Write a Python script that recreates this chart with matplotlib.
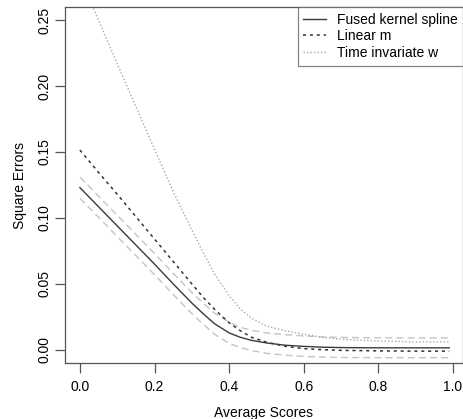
import numpy as np
import matplotlib.pyplot as plt

plt.rcParams['font.family'] = ['Liberation Sans', 'DejaVu Sans']

# average scores grid
x = [0.00, 0.05, 0.10, 0.15, 0.20, 0.25, 0.30, 0.33, 0.36, 0.40, 0.43, 0.46, 0.50,
     0.55, 0.60, 0.65, 0.70, 0.80, 0.90, 0.99]

fused = [0.123, 0.1085, 0.094, 0.0795, 0.065, 0.050, 0.0355, 0.0275, 0.020, 0.0128, 0.0095,
         0.0072, 0.0052, 0.0035, 0.0026, 0.0020, 0.0017, 0.0015, 0.0015, 0.0015]
fused_up = [0.131, 0.1165, 0.102, 0.0875, 0.073, 0.058, 0.0435, 0.0355, 0.028, 0.021, 0.017,
            0.0148, 0.0128, 0.0115, 0.0105, 0.0098, 0.0094, 0.0091, 0.009, 0.009]
fused_lo = [0.115, 0.1005, 0.086, 0.0715, 0.057, 0.042, 0.0275, 0.0195, 0.012, 0.0048, 0.0018,
            -0.0006, -0.0026, -0.0041, -0.005, -0.0055, -0.0058, -0.006, -0.006, -0.006]
linear_m = [0.1515, 0.1345, 0.118, 0.101, 0.084, 0.067, 0.050, 0.040, 0.031, 0.0205, 0.0145,
            0.0095, 0.0058, 0.0027, 0.0009, 0.0001, -0.0004, -0.0008, -0.001, -0.001]
time_inv = [0.283, 0.250, 0.217, 0.1845, 0.152, 0.120, 0.091, 0.074, 0.058, 0.041, 0.031,
            0.024, 0.018, 0.0145, 0.0118, 0.0095, 0.008, 0.0066, 0.006, 0.006]

fig = plt.figure(figsize=(4.64, 4.19), dpi=100)
ax = fig.add_axes([65/464, 56/419, 398/464, 356/419])

ax.plot(x, fused_up, color='#c4c4c4', lw=1, ls=(0, (5, 3)))
ax.plot(x, fused_lo, color='#c4c4c4', lw=1, ls=(0, (5, 3)))
ax.plot(x, time_inv, color='#a8a8a8', lw=1, ls=(0, (1, 1.5)), label='Time invariate w')
ax.plot(x, linear_m, color='#333333', lw=1.1, ls=(0, (2, 2.5)), label='Linear m')
ax.plot(x, fused, color='#3a3a3a', lw=1, label='Fused kernel spline')

ax.set_xlim(-0.04, 1.027)
ax.set_ylim(-0.01, 0.26)
ax.set_xticks([0.0, 0.2, 0.4, 0.6, 0.8, 1.0])
ax.set_xticklabels(['0.0', '0.2', '0.4', '0.6', '0.8', '1.0'])
ax.set_yticks([0.00, 0.05, 0.10, 0.15, 0.20, 0.25])
ax.set_yticklabels(['0.00', '0.05', '0.10', '0.15', '0.20', '0.25'], rotation=90, va='center')
ax.tick_params(direction='out', length=7, width=0.9, color='#555555', labelsize=10)
ax.tick_params(axis='x', pad=5)
ax.tick_params(axis='y', pad=3)
for s in ax.spines.values():
    s.set_color('#555555')
    s.set_linewidth(0.9)

ax.set_xlabel('Average Scores', fontsize=10, labelpad=9)
ax.set_ylabel('Square Errors', fontsize=10, labelpad=7)

h, l = ax.get_legend_handles_labels()
order = [2, 1, 0]
leg = ax.legend([h[i] for i in order], [l[i] for i in order], loc='upper right',
                fontsize=10, frameon=True, fancybox=False, borderaxespad=0,
                handlelength=1.6, handletextpad=0.8, labelspacing=0.2,
                borderpad=0.4)
leg.get_frame().set_edgecolor('#666666')
leg.get_frame().set_linewidth(0.9)

fig.savefig('out.png', dpi=100)
